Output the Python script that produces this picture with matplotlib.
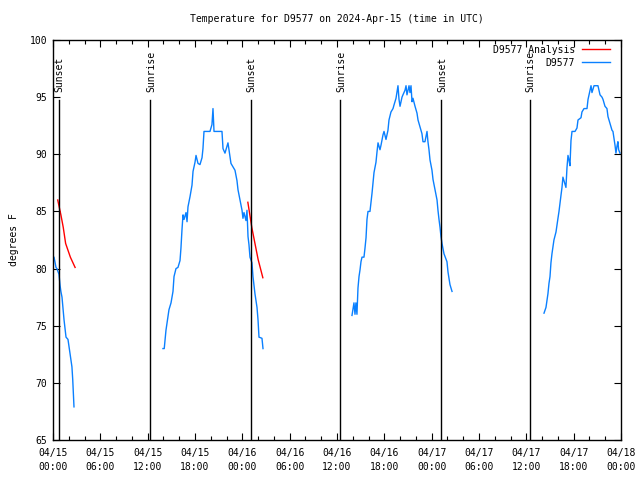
import matplotlib
matplotlib.use("Agg")
import matplotlib.pyplot as plt
import numpy as np
from matplotlib import ticker

# hours since 2024-04-15 00:00 UTC, temperatures in degrees F
seg1_hours = [0.0, 0.13, 0.38, 0.5, 0.76, 0.9, 1.0, 1.14, 1.4, 1.65, 1.9, 2.15, 2.4, 2.5, 2.66]
seg1_temps = [81, 81, 80.1, 80, 79.5, 78.5, 78, 77.5, 75.5, 74, 73.8, 72.6, 71.4, 70.3, 67.9]

seg2_hours = [13.94, 14.1, 14.32, 14.58, 14.70, 14.96, 15.21, 15.34, 15.59, 15.84, 16.10, 16.22, 16.35,
              16.48, 16.61, 16.86, 16.99, 17.11, 17.37, 17.62, 17.75, 18.0, 18.13, 18.38, 18.63, 18.89,
              19.01, 19.14, 19.90, 20.15, 20.28, 20.41, 21.42, 21.55, 21.80, 22.18, 22.31, 22.56, 22.82,
              23.07, 23.32, 23.45, 23.70, 23.96, 24.08, 24.21, 24.46, 24.59, 24.72, 24.84, 24.97, 25.22,
              25.35, 25.60, 25.86, 25.99, 26.11, 26.49, 26.62]
seg2_temps = [73.0, 73.0, 74.6, 75.8, 76.4, 77.0, 78.0, 79.3, 80.0, 80.1, 80.7, 81.8, 83.4,
              84.7, 84.3, 84.9, 84.1, 85.4, 86.3, 87.3, 88.5, 89.3, 89.9, 89.2, 89.1, 89.7,
              90.5, 92.0, 92.0, 92.6, 94.0, 92.0, 92.0, 90.5, 90.1, 91.0, 90.4, 89.2, 88.9,
              88.6, 87.7, 86.9, 86.0, 85.1, 84.4, 84.9, 84.2, 85.1, 82.8, 82.1, 81.0, 80.5,
              79.3, 77.8, 76.6, 75.5, 74.0, 73.9, 73.0]

seg3_hours = [37.90, 38.15, 38.28, 38.40, 38.53, 38.66, 38.79, 38.92, 39.04, 39.17, 39.42, 39.55, 39.68,
              39.80, 39.93, 40.18, 40.31, 40.44, 40.56, 40.69, 40.94, 41.07, 41.20, 41.45, 41.58, 41.83,
              41.96, 42.21, 42.46, 42.59, 42.84, 43.10, 43.22, 43.48, 43.61, 43.73, 43.86, 43.99, 44.24,
              44.36, 44.62, 44.75, 44.87, 45.13, 45.25, 45.38, 45.51, 45.63, 45.89, 46.14, 46.27, 46.52,
              46.77, 46.90, 47.15, 47.41, 47.53, 47.66, 47.79, 48.04, 48.17, 48.42, 48.68, 48.80, 48.93,
              49.06, 49.18, 49.31, 49.56, 49.94, 50.07, 50.32, 50.58]
seg3_temps = [75.9, 77.0, 76.0, 77.0, 76.0, 78.3, 79.3, 79.9, 80.6, 81.0, 81.0, 81.8, 82.7,
              84.3, 85.0, 85.0, 85.8, 86.6, 87.5, 88.4, 89.3, 90.2, 91.0, 90.4, 90.8, 91.7,
              92.0, 91.3, 92.1, 93.0, 93.7, 94.0, 94.3, 94.9, 95.5, 96.0, 94.8, 94.2, 95.0,
              95.2, 95.6, 96.0, 95.2, 96.0, 95.4, 96.0, 94.6, 94.9, 94.2, 93.6, 93.0, 92.4,
              91.8, 91.1, 91.1, 92.0, 91.1, 90.4, 89.5, 88.6, 87.8, 86.9, 86.0, 85.1, 84.3,
              83.6, 82.8, 82.2, 81.3, 80.6, 79.7, 78.6, 78.0]

seg4_hours = [62.24, 62.49, 62.62, 62.74, 62.87, 63.0, 63.12, 63.25, 63.38, 63.50, 63.76, 63.88, 64.01,
              64.14, 64.26, 64.39, 64.52, 64.64, 64.77, 65.02, 65.15, 65.28, 65.41, 65.53, 65.66, 65.79,
              66.17, 66.42, 66.55, 66.93, 67.05, 67.31, 67.69, 67.82, 68.07, 68.20, 68.32, 68.58, 69.08,
              69.34, 69.59, 69.72, 69.97, 70.22, 70.35, 70.60, 70.86, 70.98, 71.24, 71.36, 71.49, 71.61,
              71.70, 71.87]
seg4_temps = [76.1, 76.6, 77.2, 77.8, 78.7, 79.3, 80.5, 81.3, 81.9, 82.5, 83.2, 83.8, 84.4,
              85.0, 85.7, 86.4, 87.1, 88.0, 87.7, 87.1, 88.8, 89.9, 89.5, 89.0, 91.2, 92.0,
              92.0, 92.3, 93.0, 93.2, 93.7, 94.0, 94.0, 94.8, 95.6, 96.0, 95.4, 96.0, 96.0,
              95.2, 95.0, 94.8, 94.2, 94.0, 93.3, 92.7, 92.1, 92.0, 90.8, 90.1, 90.7, 91.1,
              90.4, 90.1]

an1_hours = [0.6, 1.0, 1.3, 1.6, 1.9, 2.2, 2.6, 2.8]
an1_temps = [86.0, 84.7, 83.6, 82.2, 81.6, 81.0, 80.4, 80.1]
an2_hours = [24.7, 25.2, 25.6, 26.0, 26.6]
an2_temps = [85.8, 83.6, 82.2, 80.8, 79.2]

sun_hours = [0.76, 12.35, 25.1, 36.4, 49.2, 60.45]
sun_labels = ["Sunset", "Sunrise", "Sunset", "Sunrise", "Sunset", "Sunrise"]

tick_hours = list(range(0, 73, 6))
tick_labels = ["04/15\n00:00", "04/15\n06:00", "04/15\n12:00", "04/15\n18:00",
               "04/16\n00:00", "04/16\n06:00", "04/16\n12:00", "04/16\n18:00",
               "04/17\n00:00", "04/17\n06:00", "04/17\n12:00", "04/17\n18:00",
               "04/18\n00:00"]


def join(*parts):
    # glue segments with NaN so the line breaks at the data gaps
    out = []
    for p in parts:
        out += list(p) + [np.nan]
    return out[:-1]


plt.rcParams['font.family'] = ['DejaVu Sans Mono']
plt.rcParams['font.size'] = 7

fig = plt.figure(figsize=(6.4, 4.8), dpi=100)
ax = fig.add_axes([53 / 640, 40 / 480, 568 / 640, 400 / 480])

ax.plot(join(an1_hours, an2_hours), join(an1_temps, an2_temps), color='#ff0000', lw=1.0)
ax.plot(join(seg1_hours, seg2_hours, seg3_hours, seg4_hours),
        join(seg1_temps, seg2_temps, seg3_temps, seg4_temps), color='#0a80ff', lw=1.0)

for h, lab in zip(sun_hours, sun_labels):
    ax.plot([h, h], [65, 94.75], color='black', lw=1.0, zorder=5)
    ax.text(h + 0.1, 95.45, lab, rotation=90, ha='center', va='bottom', fontsize=7)

ax.set_xlim(0, 72)
ax.set_ylim(65, 100)
ax.set_xticks(tick_hours)
ax.set_xticklabels(tick_labels, linespacing=1.45)
ax.xaxis.set_minor_locator(ticker.MultipleLocator(2))
ax.set_yticks(range(65, 101, 5))
ax.tick_params(which='both', direction='in', top=True, right=True, width=0.8)
ax.tick_params(which='major', length=5, pad=6)
ax.tick_params(which='minor', length=3)
ax.tick_params(axis='y', pad=4)
for s in ax.spines.values():
    s.set_linewidth(1.0)

ax.set_ylabel("degrees F", labelpad=8)
fig.text(337 / 640, 1 - 19 / 480, "Temperature for D9577 on 2024-Apr-15 (time in UTC)",
         ha='center', va='center', fontsize=7)

# key in the top right corner
key = [("D9577 Analysis", '#ff0000', 50), ("D9577", '#0a80ff', 63)]
for lab, col, ypix in key:
    fig.text(575 / 640, 1 - ypix / 480, lab, ha='right', va='center', fontsize=7)
    fig.add_artist(plt.Line2D([582 / 640, 610 / 640], [1 - (ypix - 1) / 480] * 2,
                              color=col, lw=1.0, transform=fig.transFigure))

fig.savefig("out.png", dpi=100)
